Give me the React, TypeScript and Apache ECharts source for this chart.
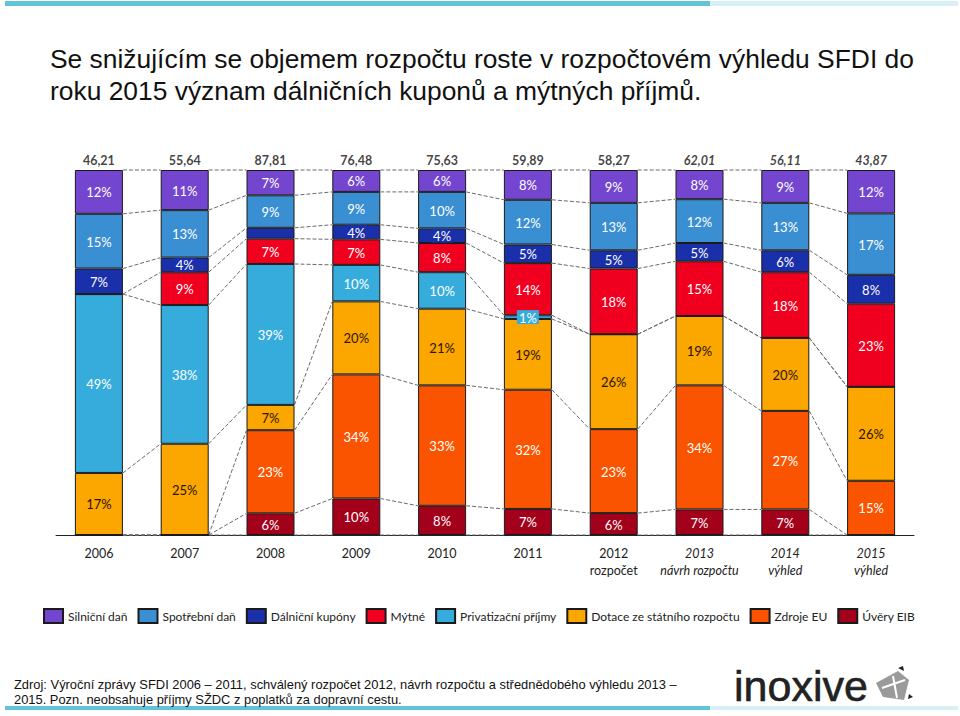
import React, { useEffect, useRef } from "react";
import * as echarts from "echarts";

const categories = [
  "2006", "2007", "2008", "2009", "2010", "2011",
  "2012\nrozpočet", "2013\nnávrh rozpočtu", "2014\nvýhled", "2015\nvýhled",
];
const totals = [46.21, 55.64, 87.81, 76.48, 75.63, 59.89, 58.27, 62.01, 56.11, 43.87];

const silnicniDan = [12, 11, 7, 6, 6, 8, 9, 8, 9, 12];
const spotrebniDan = [15, 13, 9, 9, 10, 12, 13, 12, 13, 17];
const dalnicniKupony = [7, 4, 3, 4, 4, 5, 5, 5, 6, 8];
const mytne = [0, 9, 7, 7, 8, 14, 18, 15, 18, 23];
const privatizacniPrijmy = [49, 38, 39, 10, 10, 1, 0, 0, 0, 0];
const dotace = [17, 25, 7, 20, 21, 19, 26, 19, 20, 26];
const zdrojeEU = [0, 0, 23, 34, 33, 32, 23, 34, 27, 15];
const uveryEIB = [0, 0, 6, 10, 8, 7, 6, 7, 7, 0];

const unlabeled = ["2008|Dálniční kupóny"];

// stacking order bottom -> top
const seriesDefs = [
  { name: "Úvěry EIB", data: uveryEIB, color: "#a3001b", text: "#ffffff" },
  { name: "Zdroje EU", data: zdrojeEU, color: "#fb5400", text: "#ffffff" },
  { name: "Dotace ze státního rozpočtu", data: dotace, color: "#fca600", text: "#2a1400" },
  { name: "Privatizační příjmy", data: privatizacniPrijmy, color: "#36acdd", text: "#ffffff" },
  { name: "Mýtné", data: mytne, color: "#f0001e", text: "#ffffff" },
  { name: "Dálniční kupóny", data: dalnicniKupony, color: "#1a2faa", text: "#ffffff" },
  { name: "Spotřební daň", data: spotrebniDan, color: "#3a8fd3", text: "#ffffff" },
  { name: "Silniční daň", data: silnicniDan, color: "#7446cf", text: "#ffffff" },
];
const legendOrder = [
  "Silniční daň", "Spotřební daň", "Dálniční kupóny", "Mýtné",
  "Privatizační příjmy", "Dotace ze státního rozpočtu", "Zdroje EU", "Úvěry EIB",
];

const FONT = "Lato, 'Open Sans', sans-serif";
const BAR_W = 48;

export default function App() {
  const ref = useRef<HTMLDivElement>(null);

  useEffect(() => {
    if (!ref.current) return;
    const chart = echarts.init(ref.current, null, { renderer: "svg" });

    const n = categories.length;
    const colSums = categories.map((_, i) =>
      seriesDefs.reduce((s, d) => s + d.data[i], 0)
    );
    const norm = seriesDefs.map((d) => d.data.map((v, i) => (v / colSums[i]) * 100));
    const cum: number[][] = categories.map((_, i) => {
      const arr = [0];
      let acc = 0;
      for (let k = 0; k < seriesDefs.length; k++) {
        acc += norm[k][i];
        arr.push(acc);
      }
      return arr;
    });

    const barSeries = seriesDefs.map((d, k) => ({
      name: d.name,
      type: "bar",
      stack: "total",
      barWidth: BAR_W,
      z: 3,
      data: norm[k],
      itemStyle: { color: d.color, borderColor: "#1a1a1a", borderWidth: 1 },
      label: {
        show: true,
        position: "inside",
        formatter: (p: any) => {
          const raw = d.data[p.dataIndex];
          const cat = categories[p.dataIndex].split("\n")[0];
          if (!raw || unlabeled.indexOf(cat + "|" + d.name) >= 0) return "";
          return `{t|${raw}%}`;
        },
        rich: {
          t: {
            color: d.text,
            fontFamily: FONT,
            fontSize: 13,
            backgroundColor: d.color,
            padding: [1, 2, 0, 2],
          },
        },
      },
      emphasis: { disabled: true },
    }));

    const connectors = {
      type: "custom",
      name: "connectors",
      z: 1,
      silent: true,
      data: categories.slice(0, n - 1).map((_, i) => [i, 0]),
      renderItem: (_params: any, api: any) => {
        const i = api.value(0);
        const children: any[] = [];
        for (let k = 0; k <= seriesDefs.length; k++) {
          const a = api.coord([i, cum[i][k]]);
          const b = api.coord([i + 1, cum[i + 1][k]]);
          children.push({
            type: "line",
            shape: { x1: a[0] + BAR_W / 2, y1: a[1], x2: b[0] - BAR_W / 2, y2: b[1] },
            style: { stroke: "#6a6a6a", lineWidth: 1, lineDash: [4, 2] },
          });
        }
        return { type: "group", children };
      },
    };

    const totalsSeries = {
      type: "scatter",
      name: "totals",
      symbolSize: 1,
      itemStyle: { color: "rgba(0,0,0,0)" },
      silent: true,
      data: totals.map((_, i) => [i, 100]),
      label: {
        show: true,
        position: "top",
        distance: 3,
        formatter: (p: any) => {
          const s = totals[p.dataIndex].toFixed(2).replace(".", ",");
          return p.dataIndex >= 7 ? `{i|${s}}` : `{n|${s}}`;
        },
        rich: {
          n: { fontFamily: FONT, fontSize: 12.5, fontWeight: "bold", color: "#111" },
          i: { fontFamily: FONT, fontSize: 12.5, fontWeight: "bold", fontStyle: "italic", color: "#111" },
        },
      },
    };

    chart.setOption({
      animation: false,
      backgroundColor: "#ffffff",
      title: {
        text: "Se snižujícím se objemem rozpočtu roste v rozpočtovém výhledu SFDI do\nroku 2015 význam dálničních kuponů a mýtných příjmů.",
        left: 50,
        top: 43,
        padding: 0,
        textStyle: {
          fontFamily: "'Liberation Sans', Arial, sans-serif",
          fontSize: 26.4,
          fontWeight: "normal",
          color: "#111",
          lineHeight: 32,
        },
      },
      grid: { left: 56, right: 46, top: 170, bottom: 181 },
      xAxis: {
        type: "category",
        data: categories,
        axisTick: { show: false },
        axisLine: { lineStyle: { color: "#222", width: 1 } },
        axisLabel: {
          margin: 10,
          interval: 0,
          formatter: (v: string, idx: number) =>
            v.split("\n").map((s) => (idx >= 7 ? `{i|${s}}` : `{n|${s}}`)).join("\n"),
          rich: {
            n: { fontFamily: FONT, fontSize: 12.5, color: "#222", lineHeight: 17 },
            i: { fontFamily: FONT, fontSize: 12.5, color: "#222", fontStyle: "italic", lineHeight: 17 },
          },
        },
      },
      yAxis: { type: "value", min: 0, max: 100, show: false },
      legend: {
        data: legendOrder,
        left: 43,
        top: 608,
        padding: 0,
        icon: "rect",
        itemWidth: 19,
        itemHeight: 14,
        itemGap: 10,
        selectedMode: false,
        textStyle: { fontFamily: FONT, fontSize: 12, color: "#222" },
      },
      series: [connectors, ...barSeries, totalsSeries],
      graphic: [
        { type: "rect", shape: { x: 5, y: 1, width: 705, height: 5 }, style: { fill: "#62c2d7" } },
        { type: "rect", shape: { x: 710, y: 1, width: 248, height: 5 }, style: { fill: "#d7eff5" } },
        { type: "rect", shape: { x: 5, y: 706, width: 705, height: 4 }, style: { fill: "#62c2d7" } },
        { type: "rect", shape: { x: 710, y: 706, width: 248, height: 4 }, style: { fill: "#d7eff5" } },
        {
          type: "text",
          x: 14,
          y: 677,
          style: {
            text: "Zdroj: Výroční zprávy SFDI 2006 – 2011, schválený rozpočet 2012, návrh rozpočtu a střednědobého výhledu 2013 –\n2015. Pozn. neobsahuje příjmy SŽDC z poplatků za dopravní cestu.",
            fontFamily: "'Liberation Sans', Arial, sans-serif",
            fontSize: 12.9,
            lineHeight: 15,
            fill: "#111",
          },
        },
        {
          type: "text",
          x: 734,
          y: 664,
          style: {
            text: "inoxive",
            fontFamily: "'Liberation Sans', Arial, sans-serif",
            fontSize: 43,
            fill: "#222",
            stroke: "#222",
            lineWidth: 0.6,
          },
        },
        {
          type: "polygon",
          shape: { points: [[876, 683], [898, 671], [909, 680], [904, 700], [883, 697]] },
          style: { fill: "#9a9a9a" },
        },
        {
          type: "polygon",
          shape: { points: [[898, 668], [903, 666], [904, 671]] },
          style: { fill: "#222" },
        },
        {
          type: "polygon",
          shape: { points: [[909, 694], [913, 697], [908, 699]] },
          style: { fill: "#222" },
        },
        {
          type: "line",
          shape: { x1: 882, y1: 688, x2: 905, y2: 680 },
          style: { stroke: "#ffffff", lineWidth: 2 },
        },
        {
          type: "line",
          shape: { x1: 893, y1: 676, x2: 897, y2: 698 },
          style: { stroke: "#ffffff", lineWidth: 2 },
        },
      ],
    });

    return () => chart.dispose();
  }, []);

  return (
    <div
      ref={ref}
      style={{ position: "absolute", left: 0, top: 0, width: 960, height: 716 }}
    />
  );
}
